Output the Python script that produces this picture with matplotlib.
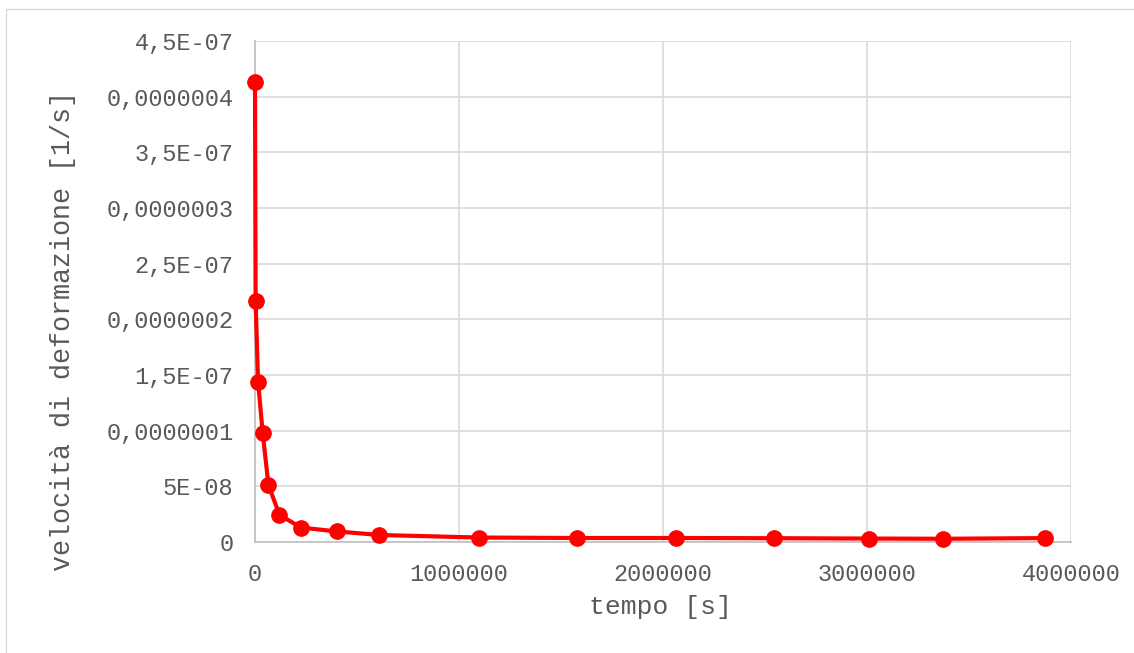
import matplotlib
matplotlib.use("Agg")
import matplotlib.pyplot as plt
from matplotlib.patches import Rectangle

# data (time [s], strain rate [1/s])
tempo = [0, 3000, 15000, 38000, 66000, 120000, 224000, 400000, 610000,
         1098000, 1579000, 2062000, 2542000, 3008000, 3374000, 3871000]
velocita = [4.13e-7, 2.165e-7, 1.44e-7, 0.975e-7, 0.51e-7, 0.245e-7, 0.13e-7,
            0.095e-7, 0.063e-7, 0.040e-7, 0.036e-7, 0.036e-7, 0.034e-7,
            0.031e-7, 0.029e-7, 0.035e-7]

y_ticks = [0, 5e-8, 1e-7, 1.5e-7, 2e-7, 2.5e-7, 3e-7, 3.5e-7, 4e-7, 4.5e-7]
y_tick_labels = ["0", "5E-08", "0,0000001", "1,5E-07", "0,0000002", "2,5E-07",
                 "0,0000003", "3,5E-07", "0,0000004", "4,5E-07"]
x_ticks = [0, 1000000, 2000000, 3000000, 4000000]
x_tick_labels = ["0", "1000000", "2000000", "3000000", "4000000"]

FONT = "Liberation Mono"
TXT = "#595959"

fig = plt.figure(figsize=(11.34, 6.53), dpi=100)
fig.patches.append(Rectangle((6 / 1134, -0.01), 1.2, 1 - 9 / 653 + 0.01,
                             transform=fig.transFigure, fill=False,
                             edgecolor="#d9d9d9", linewidth=1.0))
ax = fig.add_axes([255 / 1134, 1 - 542 / 653, (1071 - 255) / 1134, (542 - 41) / 653])

ax.plot(tempo, velocita, color="#ff0000", linewidth=3.0, marker="o",
        markersize=11, markerfacecolor="#ff0000", markeredgecolor="#ff0000",
        zorder=3, clip_on=False)

ax.set_xlim(0, 4000000)
ax.set_ylim(0, 4.5e-7)
ax.set_xticks(x_ticks)
ax.set_xticklabels(x_tick_labels)
ax.set_yticks(y_ticks)
ax.set_yticklabels(y_tick_labels)

ax.grid(True, color="#d9d9d9", linewidth=1.2)
ax.set_axisbelow(True)
for s in ["top", "right"]:
    ax.spines[s].set_visible(False)
for s in ["left", "bottom"]:
    ax.spines[s].set_color("#bfbfbf")
    ax.spines[s].set_linewidth(1.2)

ax.tick_params(axis="y", length=0, pad=15.5, labelsize=17, labelcolor=TXT)
ax.tick_params(axis="x", length=0, pad=15, labelsize=17, labelcolor=TXT)
for lab in ax.get_xticklabels() + ax.get_yticklabels():
    lab.set_fontfamily(FONT)

ax.set_xlabel("tempo [s]", fontsize=19, color=TXT, family=FONT)
ax.xaxis.set_label_coords((660 - 255) / (1071 - 255), -(607 - 542) / 501)
ax.set_ylabel("velocità di deformazione [1/s]", fontsize=19.3, color=TXT,
              family=FONT)
ax.yaxis.set_label_coords(-(255 - 63) / (1071 - 255), (542 - 331) / 501)
ax.xaxis.label.set_va("center")
ax.yaxis.label.set_va("center")

fig.savefig("out.png", dpi=100, facecolor="white")
